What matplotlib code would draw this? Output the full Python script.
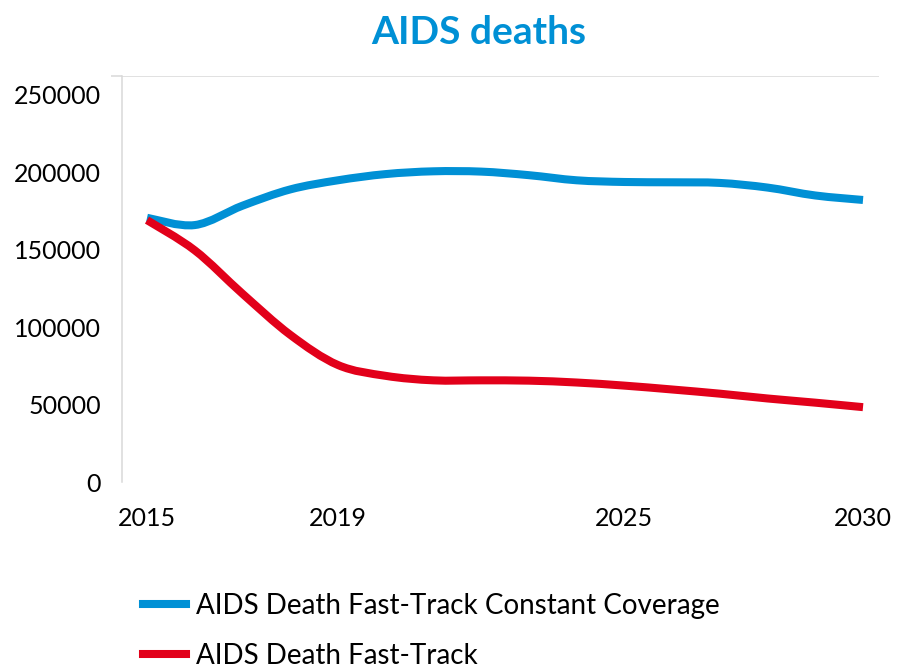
import numpy as np
import matplotlib
matplotlib.use('Agg')
import matplotlib.pyplot as plt
from matplotlib.path import Path
from matplotlib.patches import PathPatch
from matplotlib.lines import Line2D

years = list(range(2015, 2031))
constant_coverage = [170500, 165800, 178300, 188800, 194700, 198700, 200500, 200300,
                     198000, 194700, 193600, 193400, 193000, 190000, 184900, 182000]
fast_track = [169000, 149500, 121500, 95000, 75500, 68500, 65600, 65600,
              65400, 64200, 62200, 59700, 57000, 53900, 51200, 48300]
series_labels = ['AIDS Death Fast-Track Constant Coverage', 'AIDS Death Fast-Track']
xtick_years = [2015, 2019, 2025, 2030]
ytick_values = [0, 50000, 100000, 150000, 200000, 250000]

BLUE = '#0090D5'
RED = '#E2001A'
GRID = '#D9D9D9'


def smooth_path(x, y):
    # excel-like smoothed line: bezier segments through the points
    x = np.asarray(x, float)
    y = np.asarray(y, float)
    n = len(x)
    verts = [(x[0], y[0])]
    codes = [Path.MOVETO]
    for i in range(n - 1):
        a = i - 1 if i > 0 else i
        b = i + 2 if i + 2 < n else i + 1
        c1 = (x[i] + (x[i + 1] - x[a]) / 6, y[i] + (y[i + 1] - y[a]) / 6)
        c2 = (x[i + 1] - (x[b] - x[i]) / 6, y[i + 1] - (y[b] - y[i]) / 6)
        verts += [c1, c2, (x[i + 1], y[i + 1])]
        codes += [Path.CURVE4] * 3
    return Path(verts, codes)


plt.rcParams['font.family'] = ['Lato', 'DejaVu Sans']
fig = plt.figure(figsize=(9.07, 6.70), dpi=100)
ax = fig.add_axes([122 / 907, 1 - 482 / 670, (879 - 122) / 907, (482 - 76) / 670])

ax.set_xlim(2014.476, 2030.335)
ax.set_ylim(0, 262000)

for vals, col in [(constant_coverage, BLUE), (fast_track, RED)]:
    ax.add_patch(PathPatch(smooth_path(years, vals), fill=False, edgecolor=col,
                           lw=5.8, capstyle='butt', joinstyle='round'))

# labels on major ticks, grid lines on minor ticks (top line sits above 250000)
ax.set_yticks(ytick_values)
ax.set_yticklabels([str(v) for v in ytick_values])
ax.set_yticks([0, 50000, 100000, 150000, 200000, 262000], minor=True)
ax.tick_params(axis='y', which='major', length=0, pad=15, labelsize=18, colors='black')
ax.tick_params(axis='y', which='minor', length=8, width=1.1, color=GRID)
ax.grid(axis='y', which='minor', color=GRID, lw=1.1)
ax.set_xticks(xtick_years)
ax.tick_params(axis='x', length=0, pad=18, labelsize=18)

for s in ['top', 'right', 'bottom']:
    ax.spines[s].set_visible(False)
ax.spines['left'].set_color(GRID)
ax.spines['left'].set_linewidth(1.1)

fig.text(479 / 907, 1 - 33 / 670, 'AIDS deaths', ha='center', va='center',
         fontsize=28, fontweight='bold', color=BLUE)

handles = [Line2D([], [], color=BLUE, lw=5.8), Line2D([], [], color=RED, lw=5.8)]
fig.legend(handles, series_labels, loc='upper left', bbox_to_anchor=(143 / 907, 1 - 593 / 670),
           frameon=False, fontsize=20, borderpad=0, borderaxespad=0,
           handlelength=1.55, handletextpad=0.35, labelspacing=0.85)

fig.savefig('out.png', dpi=100)
